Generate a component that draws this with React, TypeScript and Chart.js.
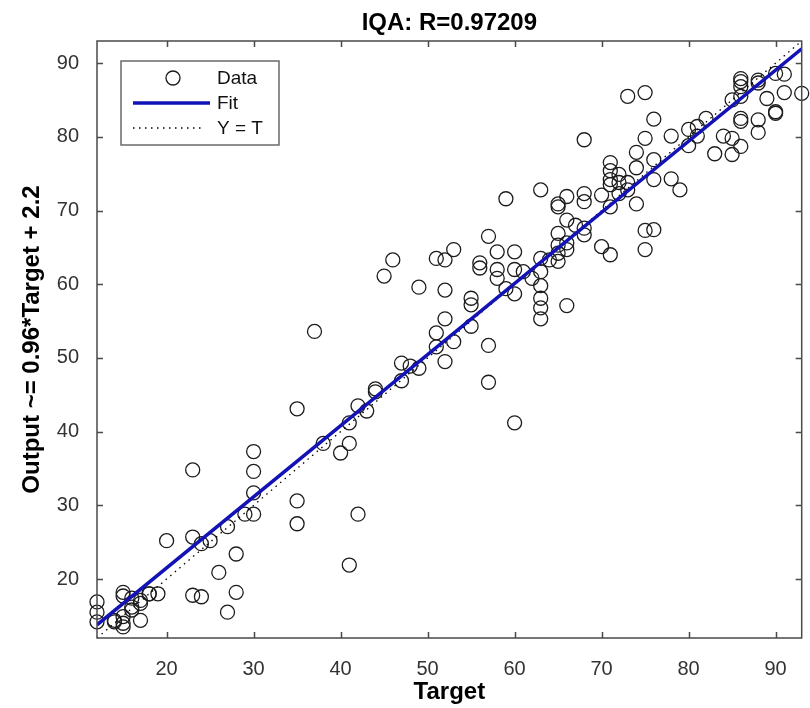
import React, { useEffect, useRef } from 'react';
import { Chart, registerables } from 'chart.js';

Chart.register(...registerables);

// ---- data ----
const targets = [
  12, 12, 12, 14, 14, 15, 15, 15, 15, 15, 16, 16, 16, 17, 17, 17, 18, 18, 19,
  20, 23, 24, 25, 23, 28, 26, 23, 24, 28, 27, 27, 29, 30, 30, 30, 30, 35, 35, 35,
  38, 41, 40, 41, 42, 43, 44, 44, 42, 41, 37,
  45, 46, 49, 47, 48, 49, 47, 51, 52, 53, 52, 52, 51, 51, 53, 52, 55, 55, 55,
  56, 56, 57, 58, 58, 58, 57, 57, 59, 60, 60, 60, 61, 62, 59, 60, 63, 63, 64,
  63, 63, 63, 63, 66, 65, 65, 65, 65, 66, 66, 66, 67, 68, 68, 70, 71, 65, 65,
  68, 71, 63,
  66, 68, 70, 72, 68, 71, 71, 71, 71, 72, 72, 73, 73, 74, 74, 74, 75, 76, 76,
  75, 76, 75, 73, 75, 76, 78, 79, 78, 80, 81, 82, 80, 81, 83, 84, 85, 85, 86,
  86, 86, 88, 88, 90, 85, 86, 86, 86, 86, 88, 88, 89, 90, 90, 91, 91, 93,
];
const outputs = [
  16.9, 15.5, 14.2, 14.2, 14.4, 13.5, 14.0, 18.2, 17.7, 14.9, 16.2, 15.8, 17.4, 16.7, 14.4, 17.1, 18.0, 18.0, 18.0,
  25.2, 25.7, 24.8, 25.2, 34.8, 23.4, 20.9, 17.8, 17.6, 18.2, 15.5, 27.1, 28.8, 28.8, 31.7, 34.6, 37.3, 30.6, 27.5, 43.1,
  38.4, 38.4, 37.1, 41.2, 43.5, 42.8, 45.4, 45.8, 28.8, 21.9, 53.6,
  61.1, 63.3, 59.6, 49.3, 48.9, 48.6, 46.9, 63.5, 63.3, 64.7, 59.2, 55.3, 53.4, 51.5, 52.2, 49.5, 58.1, 57.2, 54.3,
  62.9, 62.2, 66.5, 64.4, 62.0, 60.8, 51.7, 46.7, 59.4, 58.7, 64.4, 62.0, 61.7, 60.8, 71.6, 41.2, 61.7, 63.5, 63.3,
  59.8, 58.1, 56.8, 55.3, 57.1, 65.3, 64.2, 63.1, 66.9, 65.6, 64.7, 68.7, 68.0, 67.6, 66.7, 65.1, 64.0, 70.9, 70.5,
  71.2, 70.5, 72.8,
  71.9, 72.3, 72.1, 72.3, 79.6, 76.5, 75.4, 74.2, 73.5, 74.9, 73.8, 73.8, 72.8, 70.9, 77.9, 75.8, 79.8, 76.9, 74.2,
  67.3, 67.4, 64.7, 85.5, 86.0, 82.4, 74.3, 72.8, 80.1, 81.0, 81.4, 82.5, 78.8, 80.1, 77.7, 80.1, 79.8, 77.6, 78.7,
  82.5, 82.1, 82.3, 80.6, 83.2, 85.0, 85.5, 87.9, 87.5, 86.8, 87.7, 87.3, 85.2, 83.4, 88.6, 88.5, 86.0, 85.9,
];
const tickValues = [20, 30, 40, 50, 60, 70, 80, 90];
const axisMin = 12;
const axisMax = 93;
const fitSlope = 0.965;
const fitIntercept = 2.2;
const titleText = 'IQA: R=0.97209';
const xTitleText = 'Target';
const yTitleText = 'Output ~= 0.96*Target + 2.2';
const legendLabels = ['Data', 'Fit', 'Y = T'];

const FONT = '"Liberation Sans", Arial, Helvetica, sans-serif';
const FIT_COLOR = '#1212b6';

export default function App() {
  const ref = useRef<HTMLCanvasElement>(null);

  useEffect(() => {
    if (!ref.current) return;
    const points = targets.map((t, i) => ({ x: t, y: outputs[i] }));
    const fitData = [axisMin, axisMax].map((x) => ({ x, y: fitSlope * x + fitIntercept }));
    const idData = [axisMin, axisMax].map((x) => ({ x, y: x }));

    const decor = {
      id: 'decor',
      beforeDraw(chart: any) {
        const { ctx, width, height } = chart;
        ctx.save();
        ctx.fillStyle = '#ffffff';
        ctx.fillRect(0, 0, width, height);
        ctx.restore();
      },
      afterDatasetsDraw(chart: any) {
        const { ctx, chartArea: ca, scales } = chart;
        ctx.save();
        ctx.strokeStyle = '#4a4a4a';
        ctx.lineWidth = 1.5;
        ctx.strokeRect(ca.left, ca.top, ca.right - ca.left, ca.bottom - ca.top);
        const tl = 6;
        ctx.beginPath();
        scales.x.ticks.forEach((t: any) => {
          const px = Math.round(scales.x.getPixelForValue(t.value)) + 0.5;
          ctx.moveTo(px, ca.bottom);
          ctx.lineTo(px, ca.bottom - tl);
          ctx.moveTo(px, ca.top);
          ctx.lineTo(px, ca.top + tl);
        });
        scales.y.ticks.forEach((t: any) => {
          const py = Math.round(scales.y.getPixelForValue(t.value)) + 0.5;
          ctx.moveTo(ca.left, py);
          ctx.lineTo(ca.left + tl, py);
          ctx.moveTo(ca.right, py);
          ctx.lineTo(ca.right - tl, py);
        });
        ctx.stroke();
        ctx.restore();
      },
      afterDraw(chart: any) {
        const { ctx, chartArea: ca } = chart;
        ctx.save();
        // title
        ctx.fillStyle = '#000';
        ctx.font = `bold 24px ${FONT}`;
        ctx.textAlign = 'center';
        ctx.textBaseline = 'alphabetic';
        ctx.fillText(titleText, (ca.left + ca.right) / 2, 30);

        // legend
        const lx = ca.left + 24;
        const ly = ca.top + 20;
        const lw = 158;
        const lh = 84;
        ctx.fillStyle = '#fff';
        ctx.fillRect(lx, ly, lw, lh);
        ctx.strokeStyle = '#6a6a6a';
        ctx.lineWidth = 1.5;
        ctx.strokeRect(lx, ly, lw, lh);
        const rows = [ly + 17, ly + 42, ly + 67];
        // Data marker
        ctx.strokeStyle = '#1a1a1a';
        ctx.lineWidth = 1.3;
        ctx.beginPath();
        ctx.arc(lx + 52, rows[0], 7, 0, Math.PI * 2);
        ctx.stroke();
        // Fit line
        ctx.strokeStyle = FIT_COLOR;
        ctx.lineWidth = 3.5;
        ctx.beginPath();
        ctx.moveTo(lx + 12, rows[1]);
        ctx.lineTo(lx + 89, rows[1]);
        ctx.stroke();
        // Y = T line
        ctx.strokeStyle = '#000';
        ctx.lineWidth = 1.3;
        ctx.setLineDash([1.5, 4.5]);
        ctx.beginPath();
        ctx.moveTo(lx + 12, rows[2]);
        ctx.lineTo(lx + 82, rows[2]);
        ctx.stroke();
        ctx.setLineDash([]);
        // texts
        ctx.fillStyle = '#111';
        ctx.font = `19px ${FONT}`;
        ctx.textAlign = 'left';
        ctx.textBaseline = 'middle';
        legendLabels.forEach((lab, i) => ctx.fillText(lab, lx + 96, rows[i] + 1));
        ctx.restore();
      },
    };

    const chart = new Chart(ref.current, {
      type: 'scatter',
      data: {
        datasets: [
          {
            label: legendLabels[1],
            data: fitData,
            showLine: true,
            borderColor: FIT_COLOR,
            borderWidth: 3.5,
            pointRadius: 0,
            fill: false,
            order: 0,
          },
          {
            label: legendLabels[2],
            data: idData,
            showLine: true,
            borderColor: '#000',
            borderWidth: 1.3,
            borderDash: [1.5, 4.5],
            pointRadius: 0,
            fill: false,
            order: 1,
          },
          {
            label: legendLabels[0],
            data: points,
            pointRadius: 7,
            pointBorderWidth: 1.3,
            borderColor: '#1c1c1c',
            backgroundColor: 'rgba(0,0,0,0)',
            pointStyle: 'circle',
            clip: false as any,
            order: 2,
          },
        ],
      } as any,
      options: {
        animation: false,
        responsive: false,
        maintainAspectRatio: false,
        devicePixelRatio: 1,
        layout: { padding: { top: 41, right: 8, left: 0, bottom: 0 } },
        plugins: {
          legend: { display: false },
          tooltip: { enabled: false },
          title: { display: false },
        },
        scales: {
          x: {
            type: 'linear',
            position: 'bottom',
            min: axisMin,
            max: axisMax,
            grid: { display: false },
            border: { display: false },
            afterBuildTicks: (s: any) => {
              s.ticks = tickValues.map((v) => ({ value: v }));
            },
            afterFit: (s: any) => {
              s.height = 70;
            },
            ticks: {
              color: '#333',
              padding: 11,
              font: { family: FONT, size: 20 },
              maxRotation: 0,
            },
            title: {
              display: true,
              text: xTitleText,
              color: '#000',
              font: { family: FONT, size: 24, weight: 'bold', lineHeight: 1 },
              padding: { top: 0, bottom: 4 },
            },
          },
          y: {
            type: 'linear',
            position: 'left',
            min: axisMin,
            max: axisMax,
            grid: { display: false },
            border: { display: false },
            afterBuildTicks: (s: any) => {
              s.ticks = tickValues.map((v) => ({ value: v }));
            },
            afterFit: (s: any) => {
              s.width = 97;
            },
            ticks: {
              color: '#333',
              padding: 10,
              font: { family: FONT, size: 20 },
            },
            title: {
              display: true,
              text: yTitleText,
              color: '#000',
              font: { family: FONT, size: 24, weight: 'bold', lineHeight: 1 },
              padding: { top: 20, bottom: 0 },
            },
          },
        },
      } as any,
      plugins: [decor],
    });

    return () => chart.destroy();
  }, []);

  return (
    <div style={{ position: 'absolute', left: 0, top: 0, width: 810, height: 708, background: '#fff' }}>
      <canvas ref={ref} width={810} height={708} style={{ display: 'block', width: 810, height: 708 }} />
    </div>
  );
}
